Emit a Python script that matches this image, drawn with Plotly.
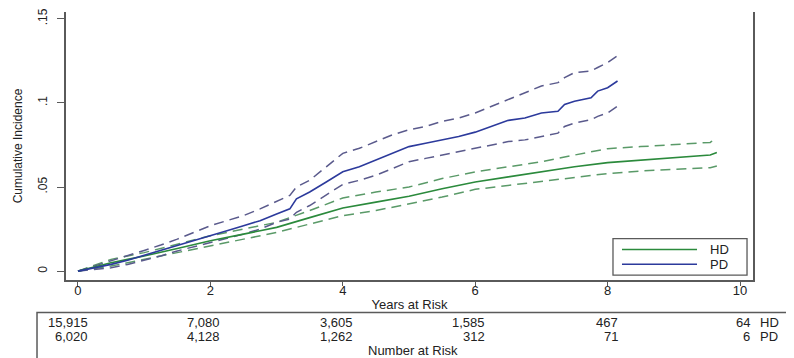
import plotly.graph_objects as go

# ---- data ----
pd_t = [0, 0.25, 0.5, 0.75, 1, 1.25, 1.5, 1.75, 2, 2.25, 2.5, 2.75, 3, 3.2, 3.3, 3.5, 3.75, 4, 4.25,
        4.5, 4.75, 5, 5.25, 5.5, 5.75, 6, 6.25, 6.5, 6.75, 7, 7.25, 7.35, 7.5, 7.75, 7.85, 8, 8.15]
pd_est = [0, 0.0018, 0.004, 0.0065, 0.0094, 0.012, 0.015, 0.018, 0.021, 0.024, 0.027, 0.030, 0.034,
          0.037, 0.043, 0.047, 0.053, 0.059, 0.062, 0.066, 0.070, 0.074, 0.076, 0.078, 0.080, 0.0826,
          0.086, 0.0896, 0.091, 0.094, 0.095, 0.099, 0.101, 0.103, 0.107, 0.109, 0.113]
pd_hi = [0, 0.003, 0.006, 0.009, 0.0123, 0.0155, 0.019, 0.023, 0.027, 0.030, 0.033, 0.037, 0.0415,
         0.045, 0.050, 0.054, 0.062, 0.070, 0.073, 0.077, 0.081, 0.084, 0.086, 0.089, 0.091, 0.094,
         0.098, 0.102, 0.106, 0.110, 0.112, 0.115, 0.118, 0.119, 0.121, 0.124, 0.128]
pd_lo = [0, 0.0008, 0.002, 0.004, 0.0064, 0.009, 0.012, 0.0145, 0.017, 0.0195, 0.022, 0.025, 0.029,
         0.031, 0.035, 0.039, 0.045, 0.0515, 0.054, 0.057, 0.061, 0.065, 0.067, 0.069, 0.071, 0.073,
         0.075, 0.077, 0.078, 0.080, 0.082, 0.086, 0.088, 0.090, 0.092, 0.094, 0.098]

hd_t = [0, 0.25, 0.5, 0.75, 1, 1.5, 2, 2.5, 3, 3.5, 4, 4.5, 5, 5.5, 6, 6.5, 7, 7.5, 8, 8.5, 9,
        9.55, 9.65]
hd_est = [0, 0.0025, 0.005, 0.007, 0.009, 0.0135, 0.018, 0.022, 0.026, 0.0318, 0.0375, 0.041, 0.0445,
          0.049, 0.053, 0.056, 0.059, 0.062, 0.0645, 0.066, 0.0675, 0.069, 0.0705]
hd_hi = [0, 0.0035, 0.007, 0.009, 0.011, 0.016, 0.021, 0.025, 0.029, 0.036, 0.0435, 0.047, 0.050,
         0.055, 0.059, 0.062, 0.065, 0.069, 0.0728, 0.074, 0.075, 0.0765, 0.0795]
hd_lo = [0, 0.0015, 0.003, 0.005, 0.007, 0.011, 0.015, 0.019, 0.023, 0.028, 0.033, 0.036, 0.040,
         0.044, 0.0486, 0.051, 0.0533, 0.056, 0.058, 0.0595, 0.0605, 0.0615, 0.0625]

risk_times = [0, 2, 4, 6, 8, 10]
risk_hd = ["15,915", "7,080", "3,605", "1,585", "467", "64"]
risk_pd = ["6,020", "4,128", "1,262", "312", "71", "6"]

x_ticks = [0, 2, 4, 6, 8, 10]
y_ticks = [0, 0.05, 0.1, 0.15]
y_ticktext = ["0", ".05", ".1", ".15"]
series_names = ["HD", "PD"]

# ---- styles ----
HD_COL = "#2b8a3c"
HD_DASH = "#5a9a68"
PD_COL = "#2c3a9c"
PD_DASH = "#5a5a8c"
FONT = "Liberation Sans, Arial, sans-serif"
AX = "#5a5a5a"
TXT = "#222222"
DASH = "10px,6px"

fig = go.Figure()
for t, y, c in [(hd_t, hd_hi, HD_DASH), (hd_t, hd_lo, HD_DASH), (pd_t, pd_hi, PD_DASH), (pd_t, pd_lo, PD_DASH)]:
    fig.add_trace(go.Scatter(x=t, y=y, mode="lines", line=dict(color=c, width=1.5, dash=DASH),
                             showlegend=False, hoverinfo="skip"))
fig.add_trace(go.Scatter(x=hd_t, y=hd_est, mode="lines", name=series_names[0],
                         line=dict(color=HD_COL, width=1.6), showlegend=False))
fig.add_trace(go.Scatter(x=pd_t, y=pd_est, mode="lines", name=series_names[1],
                         line=dict(color=PD_COL, width=1.6), showlegend=False))

# ---- legend box (drawn as in the reference) ----
fig.add_shape(type="rect", xref="paper", yref="paper", x0=0.7962, x1=0.9913, y0=0.0184, y1=0.1544,
              line=dict(color=AX, width=1.3), fillcolor="white")
for yy, col, name in [(0.114, HD_COL, series_names[0]), (0.0588, PD_COL, series_names[1])]:
    fig.add_shape(type="line", xref="paper", yref="paper", x0=0.8093, x1=0.9185, y0=yy, y1=yy,
                  line=dict(color=col, width=1.6))
    fig.add_annotation(x=0.9345, y=yy, xref="paper", yref="paper", text=name, showarrow=False,
                       xanchor="left", yanchor="middle", font=dict(size=13, color=TXT, family=FONT))

# ---- number-at-risk table ----
for t, a, b in zip(risk_times, risk_hd, risk_pd):
    fig.add_annotation(x=t, y=-0.158, xref="x", yref="paper", text=a, showarrow=False,
                       xanchor="right", yanchor="middle", xshift=12, font=dict(size=13, color=TXT, family=FONT))
    fig.add_annotation(x=t, y=-0.2096, xref="x", yref="paper", text=b, showarrow=False,
                       xanchor="right", yanchor="middle", xshift=12, font=dict(size=13, color=TXT, family=FONT))
for yy, name in [(-0.158, series_names[0]), (-0.2096, series_names[1])]:
    fig.add_annotation(x=1.007, y=yy, xref="paper", yref="paper", text=name, showarrow=False,
                       xanchor="left", yanchor="middle", font=dict(size=13, color=TXT, family=FONT))
fig.add_annotation(x=0.505, y=-0.263, xref="paper", yref="paper", text="Number at Risk", showarrow=False,
                   xanchor="center", yanchor="middle", font=dict(size=13, color=TXT, family=FONT))
fig.add_shape(type="rect", xref="paper", yref="paper", x0=-0.0422, x1=1.2, y0=-0.121, y1=-0.40,
              line=dict(color=AX, width=1.5))

# page body has an 8px margin: shrink the figure accordingly
fig.update_layout(
    width=786, height=350,
    margin=dict(l=58, r=41, t=0, b=78),
    paper_bgcolor="white", plot_bgcolor="white",
    font=dict(family=FONT, size=12, color=TXT),
    showlegend=False,
    xaxis=dict(range=[-0.181, 10.196], tickvals=x_ticks, ticks="outside", ticklen=4, tickcolor=AX,
               showline=True, linecolor=AX, linewidth=1.5, showgrid=False, zeroline=False,
               tickfont=dict(size=13), ticklabelstandoff=-6,
               title=dict(text="Years at Risk", standoff=3, font=dict(size=13))),
    yaxis=dict(range=[-0.00527, 0.154], tickvals=y_ticks, ticktext=y_ticktext, tickangle=-90,
               ticks="outside", ticklen=7, tickcolor=AX, showline=True, linecolor=AX, linewidth=1.5,
               mirror=True, showgrid=False, zeroline=False, tickfont=dict(size=12),
               ticklabelstandoff=5, ticklabeloverflow="allow",
               title=dict(text="Cumulative Incidence", standoff=11, font=dict(size=12))),
)

fig.write_html("out.html")
